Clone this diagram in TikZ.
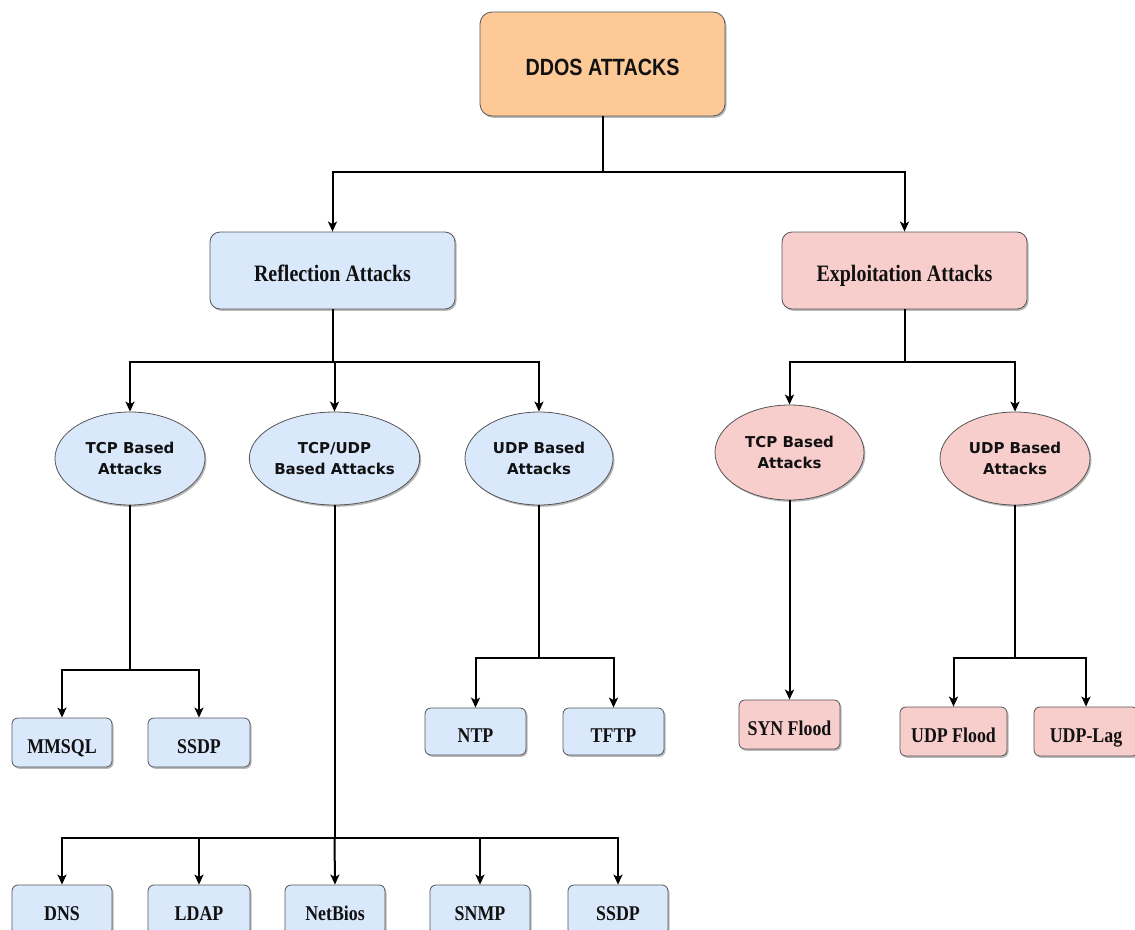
\documentclass[tikz,border=0pt]{standalone}
\usepackage{fontspec}
\usetikzlibrary{arrows.meta,shadows,shapes.geometric}
\newfontfamily\titlefont{Liberation Sans}[FakeStretch=0.84]
\newfontfamily\labelfont{Liberation Serif}[FakeStretch=0.85]
\newfontfamily\ovalfont{DejaVu Sans}

\definecolor{rootfill}{HTML}{FDCA97}
\definecolor{bluefill}{HTML}{DAE8FC}
\definecolor{pinkfill}{HTML}{F8CECC}
\definecolor{edgegray}{HTML}{555555}
\definecolor{inkcol}{HTML}{111111}

\tikzset{
  shade3d/.style={drop shadow={shadow xshift=1.5pt,shadow yshift=-1.8pt,opacity=0.28,fill=black}},
  basebox/.style={draw=edgegray,line width=0.8pt,inner sep=0pt,text=inkcol,shade3d},
  bigbox/.style={basebox,rounded corners=10pt,minimum width=245,minimum height=77,
                 text height=22pt,text depth=0pt,
                 font=\labelfont\bfseries\fontsize{23.5}{28}\selectfont},
  leafbox/.style={basebox,rounded corners=6pt,minimum width=100,minimum height=49,
                  text height=21pt,text depth=0pt,
                  font=\labelfont\bfseries\fontsize{21}{25}\selectfont},
  oval/.style={basebox,ellipse,minimum width=149,minimum height=93,align=center,
               font=\ovalfont\bfseries\fontsize{15}{21.5}\selectfont},
  wire/.style={line width=2pt,draw=black},
  arr/.style={wire,-{Stealth[length=10pt,width=9pt,inset=2.5pt]}},
}

\begin{document}
\begin{tikzpicture}[x=1pt,y=-1pt]
\useasboundingbox (0,0) rectangle (1135,929);

% root
\node[basebox,fill=rootfill,rounded corners=12pt,minimum width=245,minimum height=104,
      text height=22.5pt,text depth=0pt,
      font=\titlefont\bfseries\fontsize{23.5}{28}\selectfont] (ddos) at (602.5,64) {DDOS ATTACKS};

% two families
\node[bigbox,fill=bluefill] (refl) at (332.5,270.5) {Reflection Attacks};
\node[bigbox,fill=pinkfill] (expl) at (904.5,270.5) {Exploitation Attacks};

% protocol ovals
\node[oval,fill=bluefill,minimum width=150] (rtcp)    at (130,458.5) {TCP Based\\Attacks};
\node[oval,fill=bluefill] (rtcpudp) at (334.5,458.5) {TCP/UDP\\Based Attacks};
\node[oval,fill=bluefill,minimum width=148] (rudp)    at (539,458.5) {UDP Based\\Attacks};
\node[oval,fill=pinkfill,minimum height=95] (xtcp)    at (789.5,452.5) {TCP Based\\Attacks};
\node[oval,fill=pinkfill,minimum width=150] (xudp)    at (1015,458.5) {UDP Based\\Attacks};

% leaves
\node[leafbox,fill=bluefill] (mmsql)  at (62,742.5)  {MMSQL};
\node[leafbox,fill=bluefill,minimum width=102] (ssdpa) at (199,742.5) {SSDP};
\node[leafbox,fill=bluefill,minimum width=101,minimum height=47] (ntp)  at (475.5,731.5) {NTP};
\node[leafbox,fill=bluefill,minimum width=101,minimum height=47] (tftp) at (613.5,731.5) {TFTP};
\node[leafbox,fill=pinkfill,minimum width=101] (syn)      at (789.5,724.5) {SYN Flood};
\node[leafbox,fill=pinkfill,minimum width=107] (udpflood) at (953.5,731.5) {UDP Flood};
\node[leafbox,fill=pinkfill,minimum width=104] (udplag)   at (1086,731.5)  {UDP-Lag};

\node[leafbox,fill=bluefill,minimum height=50] (dns)     at (62,910)  {DNS};
\node[leafbox,fill=bluefill,minimum height=50,minimum width=102] (ldap) at (199,910) {LDAP};
\node[leafbox,fill=bluefill,minimum height=50] (netbios) at (335,910) {NetBios};
\node[leafbox,fill=bluefill,minimum height=50] (snmp)    at (480,910) {SNMP};
\node[leafbox,fill=bluefill,minimum height=50] (ssdpb)   at (618,910) {SSDP};

% junction points
\coordinate (j0)   at (602.5,172);
\coordinate (jr)   at (332.5,362);
\coordinate (jx)   at (904.5,362);
\coordinate (jt)   at (130,670);
\coordinate (ju)   at (539,658);
\coordinate (jtu)  at (334.5,838);
\coordinate (jxu)  at (1015,658);

% root to families
\draw[wire] (ddos.south) -- (j0);
\draw[arr] (j0) -| (refl.north);
\draw[arr] (j0) -| (expl.north);

% reflection branch
\draw[wire] (refl.south) -- (jr);
\draw[arr] (jr) -| (rtcp.north);
\draw[arr] (jr) -| (rtcpudp.north);
\draw[arr] (jr) -| (rudp.north);

% exploitation branch
\draw[wire] (expl.south) -- (jx);
\draw[arr] (jx) -| (xtcp.north);
\draw[arr] (jx) -| (xudp.north);

% TCP based reflection
\draw[wire] (rtcp.south) -- (jt);
\draw[arr] (jt) -| (mmsql.north);
\draw[arr] (jt) -| (ssdpa.north);

% UDP based reflection
\draw[wire] (rudp.south) -- (ju);
\draw[arr] (ju) -| (ntp.north);
\draw[arr] (ju) -| (tftp.north);

% TCP/UDP based reflection
\draw[wire] (rtcpudp.south) -- (jtu);
\draw[arr] (jtu) -| (dns.north);
\draw[arr] (jtu) -| (ldap.north);
\draw[arr] (jtu) -- (netbios.north);
\draw[arr] (jtu) -| (snmp.north);
\draw[arr] (jtu) -| (ssdpb.north);

% exploitation leaves
\draw[arr] (xtcp.south) -- (syn.north);
\draw[wire] (xudp.south) -- (jxu);
\draw[arr] (jxu) -| (udpflood.north);
\draw[arr] (jxu) -| (udplag.north);
\end{tikzpicture}
\end{document}
